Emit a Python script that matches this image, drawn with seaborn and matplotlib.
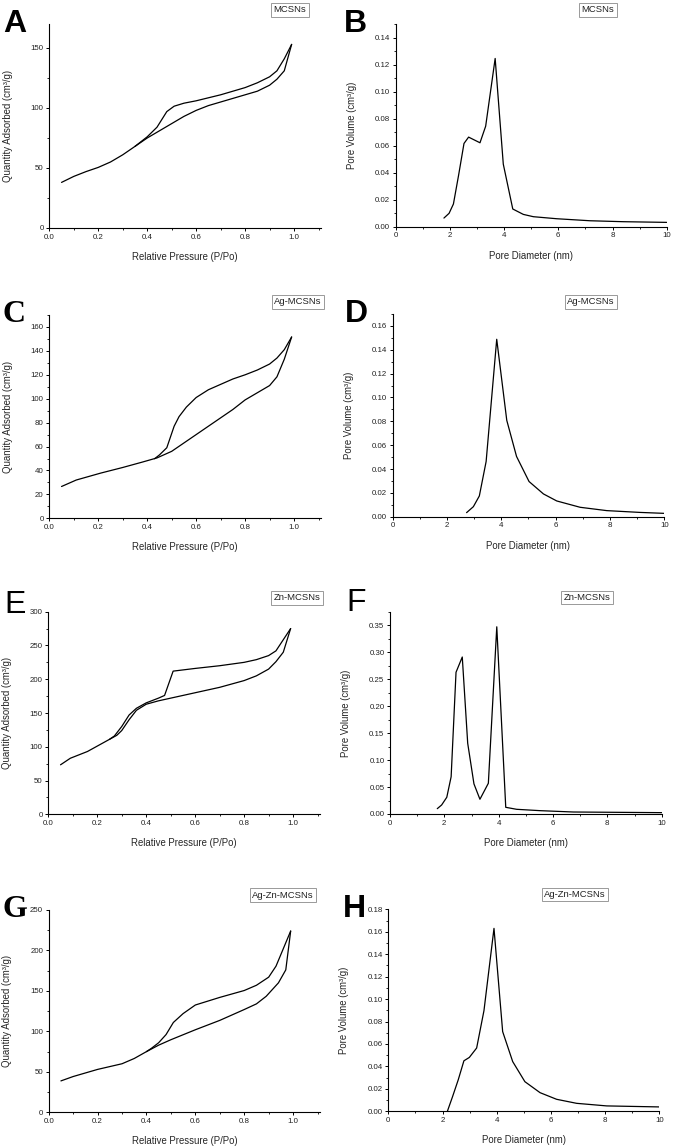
#!/usr/bin/env python3
"""
N2 isotherms and pore size distributions, 4 samples (panels A-H)
"""

import pandas as pd
import matplotlib
matplotlib.use('Agg')
import matplotlib.pyplot as plt
import seaborn as sns
from matplotlib.ticker import MultipleLocator, FormatStrFormatter

sns.set_style("ticks")
plt.rcParams['font.family'] = ['Liberation Sans', 'DejaVu Sans']

# ---- isotherm data: relative pressure vs quantity adsorbed ----
a_ads_p = [0.05, 0.1, 0.15, 0.2, 0.25, 0.3, 0.35, 0.4, 0.45, 0.5, 0.55, 0.6, 0.65, 0.7, 0.75, 0.8, 0.85, 0.9, 0.93, 0.96, 0.99]
a_ads_q = [38, 43, 47, 50.5, 55, 61, 68, 75, 81, 87, 93, 98, 102, 105, 108, 111, 114, 119, 124, 131, 153]
a_des_p = [0.99, 0.96, 0.93, 0.9, 0.85, 0.8, 0.75, 0.7, 0.65, 0.6, 0.55, 0.51, 0.48, 0.44, 0.4, 0.35]
a_des_q = [153, 141, 131, 126, 121, 117, 114, 111, 108.5, 106, 104, 101.5, 97, 84, 76, 68]

c_ads_p = [0.05, 0.11, 0.21, 0.3, 0.38, 0.44, 0.5, 0.6, 0.7, 0.75, 0.8, 0.9, 0.93, 0.96, 0.99]
c_ads_q = [26.6, 32, 37.8, 42.5, 47, 50.5, 56, 70, 84, 91, 99, 111, 118.3, 133, 151.6]
c_des_p = [0.99, 0.96, 0.93, 0.9, 0.85, 0.8, 0.75, 0.7, 0.65, 0.6, 0.56, 0.53, 0.51, 0.48, 0.45, 0.43]
c_des_q = [151.6, 141, 134, 129, 124, 120, 116.5, 112, 107.5, 101, 93, 85, 77, 59, 53, 49.8]

e_ads_p = [0.05, 0.09, 0.16, 0.21, 0.25, 0.28, 0.3, 0.33, 0.36, 0.4, 0.45, 0.5, 0.6, 0.7, 0.8, 0.85, 0.9, 0.93, 0.96, 0.99]
e_ads_q = [73.3, 83, 93, 103, 111, 117, 124, 140, 154, 163, 168, 172, 180, 188, 198, 205, 215, 226, 240, 275]
e_des_p = [0.99, 0.93, 0.9, 0.85, 0.8, 0.7, 0.6, 0.51, 0.475, 0.45, 0.4, 0.36, 0.33, 0.3, 0.27, 0.25]
e_des_q = [275, 242, 235, 229, 225, 220, 216, 212, 176, 172, 165, 157, 147, 130, 116, 111]

g_ads_p = [0.05, 0.1, 0.2, 0.3, 0.35, 0.4, 0.45, 0.5, 0.6, 0.7, 0.8, 0.85, 0.89, 0.94, 0.97, 0.99]
g_ads_q = [38.8, 44.2, 53, 60, 66.5, 75, 83, 89.7, 102, 113.6, 127, 134, 143.4, 160, 176, 224]
g_des_p = [0.99, 0.93, 0.9, 0.85, 0.8, 0.7, 0.6, 0.55, 0.51, 0.48, 0.45, 0.42, 0.4]
g_des_q = [224, 180.6, 167, 157, 150.5, 142, 132.6, 122, 111, 96, 86, 79, 75]

# ---- pore size distribution data: diameter (nm) vs pore volume ----
b_d = [1.78, 1.97, 2.13, 2.32, 2.52, 2.69, 3.11, 3.32, 3.67, 3.97, 4.32, 4.71, 5.08, 5.94, 7.17, 8.4, 10]
b_v = [0.0064, 0.0099, 0.0168, 0.038, 0.0616, 0.0663, 0.0621, 0.0744, 0.1245, 0.0463, 0.0131, 0.0091, 0.0074, 0.0059, 0.0044, 0.0037, 0.0032]

d_d = [2.72, 2.97, 3.19, 3.44, 3.83, 4.2, 4.56, 5.02, 5.55, 6.04, 6.9, 7.88, 9.1, 10]
d_v = [0.0034, 0.0084, 0.0174, 0.0463, 0.1488, 0.0808, 0.0505, 0.0295, 0.0191, 0.0132, 0.0079, 0.0051, 0.0036, 0.0028]

f_d = [1.74, 1.9, 2.09, 2.25, 2.43, 2.66, 2.86, 3.09, 3.31, 3.62, 3.93, 4.26, 4.66, 5.52, 6.75, 10]
f_v = [0.0099, 0.0167, 0.031, 0.069, 0.2627, 0.291, 0.131, 0.0558, 0.0273, 0.057, 0.347, 0.0124, 0.0087, 0.0062, 0.0037, 0.0025]

h_d = [2.18, 2.37, 2.58, 2.79, 2.99, 3.26, 3.53, 3.9, 4.22, 4.59, 5.04, 5.6, 6.21, 6.95, 8.06, 10]
h_v = [0.0, 0.013, 0.028, 0.045, 0.048, 0.0564, 0.0897, 0.163, 0.071, 0.0443, 0.0264, 0.0166, 0.0107, 0.0071, 0.0048, 0.0039]

samples = ['MCSNs', 'Ag-MCSNs', 'Zn-MCSNs', 'Ag-Zn-MCSNs']

W, H = 675, 1146

def px_rect(l, t, r, b):
    return [l / W, 1 - b / H, (r - l) / W, (b - t) / H]

def style_axis(ax, label_dx):
    sns.despine(ax=ax)
    ax.tick_params(which='major', direction='out', length=2.5, width=0.7,
                   labelsize=5.7, pad=1.5, color='black', labelcolor='#222222')
    ax.tick_params(which='minor', direction='out', length=1.4, width=0.6, color='black')
    for sp in ax.spines.values():
        sp.set_linewidth(0.8)
        sp.set_color('black')
    ax.grid(False)
    w_px = ax.get_position().width * W
    h_px = ax.get_position().height * H
    ax.yaxis.set_label_coords(label_dx / w_px, 0.5)
    ax.xaxis.set_label_coords(0.5, -24 / h_px)

fig = plt.figure(figsize=(W / 100, H / 100), dpi=100)

iso_rects = [(49.3, 24, 321, 228), (49.3, 315, 321, 518.3),
             (48.3, 611.7, 320, 814.3), (48.7, 910, 320, 1112.3)]
psd_rects = [(395.7, 24, 666.7, 226.7), (392.7, 314, 664.3, 516.7),
             (390, 611.7, 661.7, 814), (388.3, 909.3, 659.3, 1111.3)]

iso_data = [(a_ads_p, a_ads_q, a_des_p, a_des_q), (c_ads_p, c_ads_q, c_des_p, c_des_q),
            (e_ads_p, e_ads_q, e_des_p, e_des_q), (g_ads_p, g_ads_q, g_des_p, g_des_q)]
iso_ylim = [170, 170, 300, 250]
iso_major = [50, 20, 50, 50]

psd_data = [(b_d, b_v), (d_d, d_v), (f_d, f_v), (h_d, h_v)]
psd_ylim = [0.15, 0.17, 0.375, 0.18]
psd_major = [0.02, 0.02, 0.05, 0.02]

for i in range(4):
    # isotherm
    ax = fig.add_axes(px_rect(*iso_rects[i]))
    ads_p, ads_q, des_p, des_q = iso_data[i]
    for p, q in [(ads_p, ads_q), (des_p, des_q)]:
        df = pd.DataFrame({'p': p, 'q': q})
        sns.lineplot(data=df, x='p', y='q', sort=False, estimator=None,
                     color='black', linewidth=0.9, ax=ax)
    ax.set_xlim(0, 1.11)
    ax.set_ylim(0, iso_ylim[i])
    ax.xaxis.set_minor_locator(MultipleLocator(0.1))
    ax.yaxis.set_major_locator(MultipleLocator(iso_major[i]))
    ax.yaxis.set_minor_locator(MultipleLocator(iso_major[i] / 2))
    ax.set_xticks([0.0, 0.2, 0.4, 0.6, 0.8, 1.0])
    ax.xaxis.set_major_formatter(FormatStrFormatter('%.1f'))
    ax.set_xlabel('Relative Pressure (P/Po)', fontsize=6.9)
    ax.set_ylabel('Quantity Adsorbed (cm³/g)', fontsize=6.9)
    style_axis(ax, -36.5)

    # pore size distribution
    ax = fig.add_axes(px_rect(*psd_rects[i]))
    d, v = psd_data[i]
    df = pd.DataFrame({'d': d, 'v': v})
    sns.lineplot(data=df, x='d', y='v', sort=False, estimator=None,
                 color='black', linewidth=0.9, ax=ax)
    ax.set_xlim(0, 10)
    ax.set_ylim(0, psd_ylim[i])
    ax.xaxis.set_major_locator(MultipleLocator(2))
    ax.xaxis.set_minor_locator(MultipleLocator(1))
    ax.yaxis.set_major_locator(MultipleLocator(psd_major[i]))
    ax.yaxis.set_minor_locator(MultipleLocator(psd_major[i] / 2))
    ax.yaxis.set_major_formatter(FormatStrFormatter('%.2f'))
    ax.set_xlabel('Pore Diameter (nm)', fontsize=6.9)
    ax.set_ylabel('Pore Volume (cm³/g)', fontsize=6.9)
    style_axis(ax, -39)

# panel letters (x, baseline y in pixels, weight, family) - mixed styles as in the source figure
sans = ['Liberation Sans', 'DejaVu Sans']
serif = ['Liberation Serif', 'DejaVu Serif']
letters = [('A', 3, 31.7, 'bold', sans), ('B', 344, 31.7, 'bold', sans),
           ('C', 3, 321.5, 'bold', serif), ('D', 345, 321.7, 'bold', sans),
           ('E', 4, 613.3, 'normal', sans), ('F', 346, 610.7, 'normal', sans),
           ('G', 3, 916.7, 'bold', serif), ('H', 343, 916.7, 'bold', sans)]
for txt, x, y, wt, fam in letters:
    fig.text(x / W, 1 - y / H, txt, fontsize=23, fontweight=wt, family=fam,
             ha='left', va='baseline', color='black')

# sample name boxes (center in pixels)
boxes = [(samples[0], 290, 10), (samples[0], 598, 10),
         (samples[1], 298, 302), (samples[1], 591, 302),
         (samples[2], 297, 598), (samples[2], 587, 597.5),
         (samples[3], 283, 895), (samples[3], 575, 894.5)]
for txt, x, y in boxes:
    fig.text(x / W, 1 - y / H, txt, fontsize=6.8, ha='center', va='center',
             color='#222222',
             bbox=dict(boxstyle='square,pad=0.25', facecolor='white',
                       edgecolor='#999999', linewidth=0.7))

plt.savefig('out.png', dpi=100, facecolor='white')
plt.close()
